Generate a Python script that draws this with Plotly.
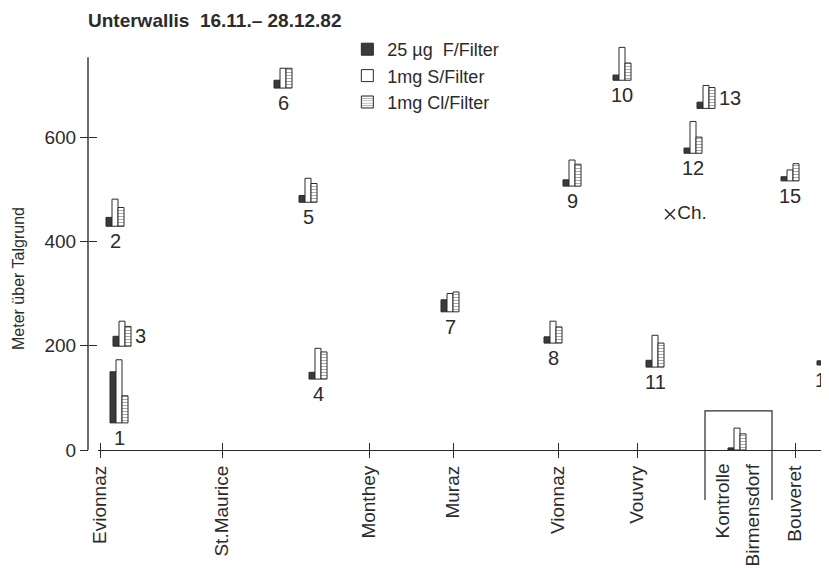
import plotly.graph_objects as go

# ---------------- data ----------------
towns = ["Evionnaz", "St.Maurice", "Monthey", "Muraz", "Vionnaz", "Vouvry", "Bouveret"]
town_pos = [0, 122, 269, 353, 458, 537, 695]          # position along the valley (arbitrary units)

stations = ["1", "2", "3", "4", "5", "6", "7", "8", "9", "10", "11", "12", "13", "14", "15", "K"]
station_pos = [19, 15, 22, 218, 208, 183, 350, 453, 472, 522, 555, 593, 606, 726, 690, 637]
station_height = [52, 429, 199, 136, 475, 694, 265, 205, 506, 709, 159, 569, 655, 163, 516, 0]  # m above valley floor
fluor_ug = [98, 17, 19, 13, 13, 15, 23, 12, 12, 10, 13, 10, 12, 8, 8, 4]                    # µg F / filter
sulfur_mg = [12.1, 5.2, 4.8, 5.9, 4.6, 3.8, 3.5, 4.2, 5.0, 6.3, 6.1, 6.1, 4.4, 2.5, 2.1, 4.2]  # mg S / filter
chlor_mg = [5.2, 3.6, 3.8, 5.2, 3.6, 3.8, 3.8, 3.1, 4.2, 3.3, 4.6, 3.1, 4.0, 2.9, 3.3, 3.1]     # mg Cl / filter
label_side = ["below", "below", "right", "below", "below", "below", "below", "below",
              "below", "below", "below", "below", "right", "below", "below", "none"]

control_pos = 637
control_labels = ["Kontrolle", "Birmensdorf"]
ch_pos, ch_height, ch_label = 570, 452, "Ch."

y_ticks = [0, 200, 400, 600]
y_axis_top = 753

# glyph scale: 25 µg F and 1 mg S/Cl drawn as bar heights in metres of the y axis
M_PER_UG_F = 1.0
M_PER_MG = 10.0

# ---------------- style ----------------
FONT = "Liberation Sans, Arial, Helvetica, sans-serif"
INK = "#2b2b2b"
BW = 6  # bar width in x units
Y_MAX = 790
PLOT_H = 412

fig = go.Figure()

fig.add_trace(go.Bar(
    x=[p - BW for p in station_pos], y=[v * M_PER_UG_F for v in fluor_ug], base=station_height,
    width=BW, name="25 µg  F/Filter", legendgroup="f",
    marker=dict(color="#3a3a3a", line=dict(color=INK, width=1)),
))
fig.add_trace(go.Bar(
    x=station_pos, y=[v * M_PER_MG for v in sulfur_mg], base=station_height,
    width=BW, name="1mg S/Filter", legendgroup="s",
    marker=dict(color="white", line=dict(color=INK, width=1)),
))
fig.add_trace(go.Bar(
    x=[p + BW for p in station_pos], y=[v * M_PER_MG for v in chlor_mg], base=station_height,
    width=BW, name="1mg Cl/Filter", legendgroup="cl",
    marker=dict(color="white", line=dict(color=INK, width=1),
                pattern=dict(shape="-", fgcolor="#555555", bgcolor="white", size=3, solidity=0.35)),
))

fig.add_trace(go.Scatter(
    x=[ch_pos], y=[ch_height], mode="markers+text", text=[ch_label], textposition="middle right",
    marker=dict(symbol="x-thin", size=10, line=dict(color=INK, width=1.5), color=INK),
    textfont=dict(family=FONT, size=19, color=INK), showlegend=False, cliponaxis=False,
))

# empty trace on the overlay axes that carry the inner half of the crossing ticks
fig.add_trace(go.Scatter(x=[], y=[], xaxis="x2", yaxis="y2", showlegend=False, hoverinfo="skip"))

# station numbers
for name, px, h, side in zip(stations, station_pos, station_height, label_side):
    if side == "below":
        fig.add_annotation(x=px, y=h, text=name, showarrow=False, xanchor="center", yanchor="top",
                           yshift=-2, font=dict(family=FONT, size=20, color=INK))
    elif side == "right":
        fig.add_annotation(x=px + 1.5 * BW, y=h, text=name, showarrow=False, xanchor="left",
                           yanchor="middle", xshift=2, yshift=10, font=dict(family=FONT, size=20, color=INK))

# y axis line (ends at the top of the scale)
fig.add_shape(type="line", xref="paper", yref="y", x0=0, x1=0, y0=0, y1=y_axis_top,
              line=dict(color=INK, width=1.4), layer="above")

# control station bracket and labels
box_top = (75 / Y_MAX)
box_bottom = -50 / PLOT_H
fig.add_shape(type="path", xref="x", yref="paper",
              path=(f"M {control_pos - 32} {box_bottom} L {control_pos - 32} {box_top} "
                    f"L {control_pos + 35} {box_top} L {control_pos + 35} {box_bottom}"),
              line=dict(color=INK, width=1.2))
for lbl, dx in zip(control_labels, [-15, 15]):
    fig.add_annotation(x=control_pos + dx, y=-12 / PLOT_H, xref="x", yref="paper", text=lbl, textangle=-90,
                       showarrow=False, xanchor="center", yanchor="top",
                       font=dict(family=FONT, size=19, color=INK))

# y axis title
fig.add_annotation(x=-0.0945, y=(450 - 278) / PLOT_H, xref="paper", yref="paper", text="Meter über Talgrund",
                   textangle=-90, showarrow=False, xanchor="center", yanchor="middle",
                   font=dict(family=FONT, size=16, color=INK))

tick_common = dict(tickcolor=INK, tickwidth=1.2)

fig.update_layout(
    width=821, height=560,
    margin=dict(l=80, r=0, t=30, b=118, autoexpand=False),
    paper_bgcolor="white", plot_bgcolor="white",
    barmode="overlay",
    font=dict(family=FONT, color=INK),
    title=dict(text="<b>Unterwallis  16.11.– 28.12.82</b>", x=0, xref="paper", xanchor="left",
               y=1 - 12 / 560, yanchor="middle", font=dict(family=FONT, size=19, color=INK)),
    legend=dict(x=0.35, y=1.017, xanchor="left", yanchor="top", bgcolor="rgba(0,0,0,0)",
                font=dict(family=FONT, size=18, color=INK), tracegroupgap=0,
                itemwidth=30),
    xaxis=dict(domain=[10 / 741, 1], range=[-2, 729], tickvals=town_pos, ticktext=towns,
               tickangle=-90, ticks="outside", ticklen=7, **tick_common,
               showline=True, linecolor=INK, linewidth=1.3, showgrid=False, zeroline=False,
               tickfont=dict(family=FONT, size=19, color=INK), fixedrange=True, automargin=False),
    xaxis2=dict(overlaying="x", anchor="y", domain=[10 / 741, 1], range=[-2, 729], tickvals=town_pos,
                ticks="inside", ticklen=7, **tick_common, showticklabels=False,
                showline=False, showgrid=False, zeroline=False, fixedrange=True),
    yaxis=dict(anchor="free", position=0, range=[0, Y_MAX], tickvals=y_ticks,
               ticks="outside", ticklen=8, **tick_common,
               showline=False, showgrid=False, zeroline=False,
               tickfont=dict(family=FONT, size=19, color=INK), fixedrange=True, automargin=False),
    yaxis2=dict(overlaying="y", anchor="free", position=0, range=[0, Y_MAX], tickvals=y_ticks,
                ticks="inside", ticklen=8, **tick_common, showticklabels=False,
                showline=False, showgrid=False, zeroline=False, fixedrange=True),
)

fig.write_html("out.html",
               post_script="document.documentElement.style.overflow='hidden';document.body.style.overflow='hidden';")
